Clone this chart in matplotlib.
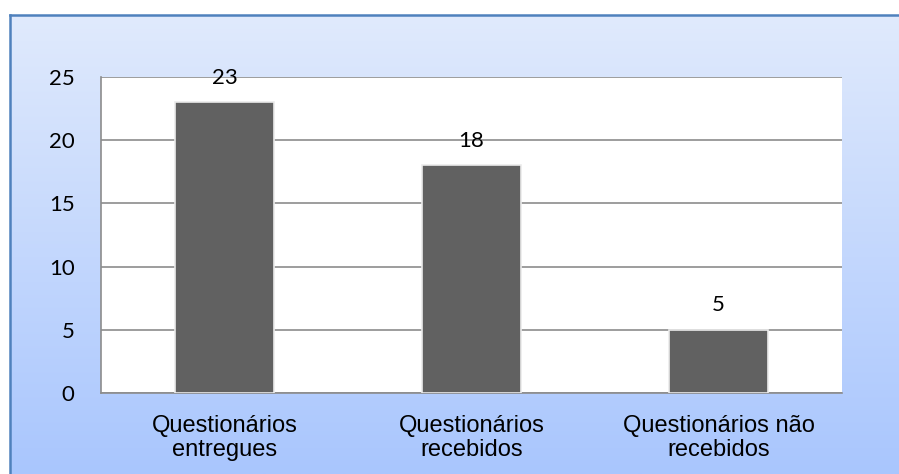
import numpy as np
import matplotlib
matplotlib.use("Agg")
import matplotlib.pyplot as plt
from matplotlib.colors import LinearSegmentedColormap

categories = ["Questionários\nentregues", "Questionários\nrecebidos", "Questionários não\nrecebidos"]
values = [23, 18, 5]
yticks = [0, 5, 10, 15, 20, 25]

W, H = 899, 474
fig = plt.figure(figsize=(W / 100, H / 100), dpi=100)
fig.patch.set_facecolor("white")

# gradient background panel
bg = fig.add_axes([10 / W, 0, 1 - 10 / W, 1 - 15 / H])
cmap = LinearSegmentedColormap.from_list("bg", ["#e0eafc", "#a9c6fe"])
grad = np.linspace(0, 1, 256).reshape(-1, 1)
bg.imshow(grad, aspect="auto", cmap=cmap, extent=[0, 1, 0, 1], origin="upper")
bg.set_xlim(0, 1)
bg.set_ylim(0, 1)
bg.set_xticks([])
bg.set_yticks([])
for s in ["right", "bottom"]:
    bg.spines[s].set_visible(False)
for s in ["left", "top"]:
    bg.spines[s].set_color("#4f81bd")
    bg.spines[s].set_linewidth(1.8)
bg.set_zorder(0)

ax = fig.add_axes([101 / W, 1 - 393 / H, (842 - 101) / W, (393 - 77) / H])
ax.set_facecolor("white")
ax.set_zorder(1)
x = np.arange(len(categories))
bars = ax.bar(x, values, width=0.4, color="#616161", edgecolor="#ebebeb", linewidth=1.2, zorder=3)
ax.set_xlim(-0.5, len(categories) - 0.5)
ax.set_ylim(0, 25)
ax.set_yticks(yticks)
ax.set_yticklabels([str(t) for t in yticks], fontfamily="Lato", fontsize=16)
ax.set_xticks(x)
ax.set_xticklabels(categories, fontfamily="Liberation Sans", fontsize=17, linespacing=1.1)
ax.tick_params(axis="both", length=0)
ax.tick_params(axis="y", pad=19)
ax.tick_params(axis="x", pad=16)
ax.grid(axis="y", color="#8c8c8c", linewidth=1.2, zorder=0)
for s in ["top", "right"]:
    ax.spines[s].set_visible(False)
for s in ["left", "bottom"]:
    ax.spines[s].set_color("#8c8c8c")
    ax.spines[s].set_linewidth(1.2)

for b, v in zip(bars, values):
    ax.annotate(str(v), (b.get_x() + b.get_width() / 2, v), xytext=(0, 17.5),
                textcoords="offset points", ha="center", va="center",
                fontfamily="Lato", fontsize=16, clip_on=False, zorder=5)

fig.savefig("out.png", dpi=100)
